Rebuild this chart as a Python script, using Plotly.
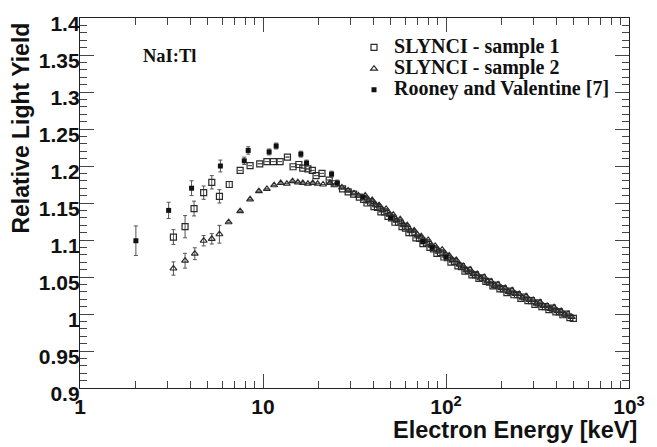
import plotly.graph_objects as go

# ---------------- data ----------------
s1_energy = [3.24, 3.75, 4.2, 4.74, 5.25, 5.78, 6.54, 7.5, 8.5, 9.6, 10.5, 11.4, 12.4, 13.6,
             14.6, 15.7, 16.5, 17.6, 18.6, 19.5, 21, 23, 24.5, 27.2, 29.2, 31.3, 33.6,
             35.5, 37, 38.7, 40.4, 42.2, 44.1, 46.1, 48.2, 50.4, 52.6, 55, 57.5, 60, 62.7,
             65.5, 68.5, 71.6, 74.8, 78.2, 81.7, 85.4, 89.2, 93.2, 97.4, 101.8, 106.4,
             111.2, 116.2, 121.4, 126.9, 132.6, 138.6, 144.8, 151.3, 158.1, 165.2, 172.6,
             180.4, 188.5, 197, 205.9, 215.2, 224.9, 235, 245.6, 256.7, 268.2, 280.3,
             292.9, 306.1, 319.9, 334.3, 349.3, 365, 381.4, 398.6, 416.5, 435.2, 454.8,
             475.3, 496.7]
s1_yield = [1.104, 1.118, 1.1425, 1.164, 1.178, 1.159, 1.175, 1.194, 1.2005, 1.203, 1.206,
            1.206, 1.206, 1.212, 1.199, 1.202, 1.197, 1.196, 1.194, 1.187, 1.190, 1.181,
            1.176, 1.169, 1.165, 1.162, 1.158,
            1.155, 1.150, 1.151, 1.145, 1.144, 1.138, 1.138, 1.132, 1.130, 1.124, 1.124,
            1.118, 1.116, 1.110, 1.110, 1.103, 1.102, 1.095, 1.096, 1.090, 1.088, 1.082,
            1.083, 1.077, 1.076, 1.070, 1.071, 1.065, 1.064, 1.058, 1.059, 1.053, 1.053,
            1.048, 1.049, 1.044, 1.043, 1.038, 1.039, 1.034, 1.034, 1.029, 1.031, 1.026,
            1.026, 1.021, 1.023, 1.018, 1.018, 1.013, 1.015, 1.010, 1.010, 1.006, 1.008,
            1.003, 1.003, 0.999, 1.000, 0.995, 0.994]
s1_err_low = [0.010, 0.015, 0.010, 0.009, 0.009, 0.009, 0.004]

s2_energy = [3.24, 3.75, 4.24, 4.74, 5.25, 5.78, 6.49, 7.5, 8.5, 9.5, 10.5, 11.5, 12.5, 13.5,
             14.5, 15.5, 16.5, 17.6, 18.7, 19.9, 21.3, 23.2, 25, 27, 29.2, 31.4, 33.2,
             36.2, 37.8, 39.5, 41.3, 43.1, 45.1, 47.1, 49.3, 51.5, 53.8, 56.2, 58.7, 61.4,
             64.1, 67, 70, 73.2, 76.5, 79.9, 83.5, 87.3, 91.2, 95.3, 99.6, 104.1, 108.8,
             113.7, 118.8, 124.1, 129.7, 135.6, 141.7, 148, 154.7, 161.6, 168.9, 176.5,
             184.4, 192.7, 201.4, 210.5, 220, 229.9, 240.2, 251, 262.3, 274.1, 286.4,
             299.3, 312.8, 326.9, 341.6, 357, 373.1, 389.9, 407.4, 425.8, 445, 465, 486]
s2_yield = [1.0615, 1.072, 1.0815, 1.099, 1.1016, 1.1078, 1.124, 1.139, 1.155, 1.166, 1.169,
            1.174, 1.177, 1.176, 1.1795, 1.178, 1.177, 1.176, 1.177, 1.176, 1.175, 1.177,
            1.175, 1.171, 1.167, 1.163, 1.160,
            1.160, 1.154, 1.154, 1.148, 1.147, 1.141, 1.142, 1.135, 1.134, 1.127, 1.128,
            1.121, 1.120, 1.113, 1.113, 1.107, 1.105, 1.099, 1.100, 1.093, 1.092, 1.086,
            1.087, 1.081, 1.079, 1.073, 1.073, 1.067, 1.065, 1.059, 1.060, 1.054, 1.054,
            1.048, 1.050, 1.044, 1.044, 1.038, 1.040, 1.035, 1.035, 1.030, 1.032, 1.027,
            1.027, 1.022, 1.024, 1.019, 1.019, 1.014, 1.016, 1.011, 1.011, 1.007, 1.009,
            1.004, 1.004, 0.999, 1.000, 0.996]
s2_err_low = [0.009, 0.010, 0.008, 0.007, 0.007, 0.012]

rv_energy = [2.02, 3.05, 4.07, 5.85, 7.9, 8.3, 10.8, 11.8, 16.1, 17.3, 23.7, 25.5, 35.2,
             50, 74.6, 84, 100]
rv_yield = [1.099, 1.140, 1.170, 1.200, 1.207, 1.221, 1.219, 1.227, 1.216, 1.204, 1.189,
            1.177, 1.158, 1.130, 1.098, 1.090, 1.077]
rv_err = [0.020, 0.011, 0.010, 0.008, 0.005, 0.005, 0.004, 0.004, 0.004, 0.004, 0.004,
          0.004, 0.003, 0.003, 0.003, 0.003, 0.003]

series_names = ["SLYNCI - sample 1", "SLYNCI - sample 2", "Rooney and Valentine [7]"]

x_tickvals = [1, 10, 100, 1000]
x_ticktext = ["1", "10", "10<sup>2</sup>", "10<sup>3</sup>"]
x_minor_ticks = [2, 3, 4, 5, 6, 7, 8, 9, 20, 30, 40, 50, 60, 70, 80, 90,
                 200, 300, 400, 500, 600, 700, 800, 900]
y_tickvals = [0.9, 0.95, 1.0, 1.05, 1.1, 1.15, 1.2, 1.25, 1.3, 1.35, 1.4]
y_ticktext = ["0.9", "0.95", "1", "1.05", "1.1", "1.15", "1.2", "1.25", "1.3", "1.35", "1.4"]

x_title = "Electron Energy [keV]"
y_title = "Relative Light Yield"
label_text = "NaI:Tl"

# ---------------- figure ----------------
W, H = 657, 447
ML, MR, MT, MB = 80, 18, 14, 59
PW, PH = W - ML - MR, H - MT - MB

def px_x(px):
    return (px - ML) / PW

def px_y(py):
    return (H - MB - py) / PH

SANS = "Liberation Sans, Arial, sans-serif"
SERIF = "Liberation Serif, Times New Roman, serif"

def err(arr, n):
    full = list(arr) + [0.0] * (n - len(arr))
    return dict(type="data", array=full, visible=True, color="#555", thickness=1, width=2)

def lbl(t):
    return '<span style="font-size:20px">' + t + '</span>'

fig = go.Figure()
fig.add_trace(go.Scatter(
    x=s1_energy, y=s1_yield, mode="markers", name=lbl(series_names[0]),
    marker=dict(symbol="square-open", size=6, color="#2a2a2a", line=dict(width=1.2)),
    error_y=err(s1_err_low, len(s1_energy))))
fig.add_trace(go.Scatter(
    x=s2_energy, y=s2_yield, mode="markers", name=lbl(series_names[1]),
    marker=dict(symbol="triangle-up-open", size=6, color="#2a2a2a", line=dict(width=1.2)),
    error_y=err(s2_err_low, len(s2_energy))))
fig.add_trace(go.Scatter(
    x=rv_energy, y=rv_yield, mode="markers", name=lbl(series_names[2]),
    marker=dict(symbol="square", size=5, color="#111"),
    error_y=err(rv_err, len(rv_energy))))

axis_common = dict(
    showline=True, linecolor="#222", linewidth=1.3, mirror="ticks",
    ticks="inside", ticklen=14, tickwidth=1, tickcolor="#444",
    showgrid=False, zeroline=False,
    tickfont=dict(family=SANS, size=21, color="#111", weight="bold"),
)

fig.update_xaxes(
    type="log", range=[0, 3], tickvals=x_tickvals, ticktext=x_ticktext,
    minor=dict(ticks="inside", ticklen=7, tickcolor="#444", tickvals=x_minor_ticks,
               showgrid=False),
    **axis_common)
fig.update_yaxes(
    range=[0.9, 1.4], tickvals=y_tickvals, ticktext=y_ticktext,
    minor=dict(ticks="inside", ticklen=7, tickcolor="#444", dtick=0.01, tick0=0.9,
               showgrid=False),
    ticklabelshift=6, ticklabelstandoff=-5,
    **axis_common)

fig.update_layout(
    width=W, height=H,
    margin=dict(l=ML, r=MR, t=MT, b=MB),
    paper_bgcolor="white", plot_bgcolor="white",
    showlegend=True,
    legend=dict(
        x=px_x(359), y=px_y(28), xanchor="left", yanchor="top",
        bgcolor="rgba(0,0,0,0)", borderwidth=0,
        font=dict(family=SERIF, size=14, color="#111", weight="bold"),
        itemsizing="trace",
    ),
    annotations=[
        dict(text=x_title, xref="paper", yref="paper", x=px_x(649), y=px_y(430),
             xanchor="right", yanchor="middle", showarrow=False,
             font=dict(family=SANS, size=23.5, color="#111", weight="bold")),
        dict(text=y_title, xref="paper", yref="paper", x=px_x(20), y=px_y(17),
             xanchor="center", yanchor="top", textangle=-90, showarrow=False,
             font=dict(family=SANS, size=23, color="#111", weight="bold")),
        dict(text=label_text, xref="paper", yref="paper", x=px_x(142), y=px_y(52),
             xanchor="left", yanchor="middle", showarrow=False,
             font=dict(family=SERIF, size=18.5, color="#111", weight="bold")),
    ],
)

fig.write_html("out.html")
